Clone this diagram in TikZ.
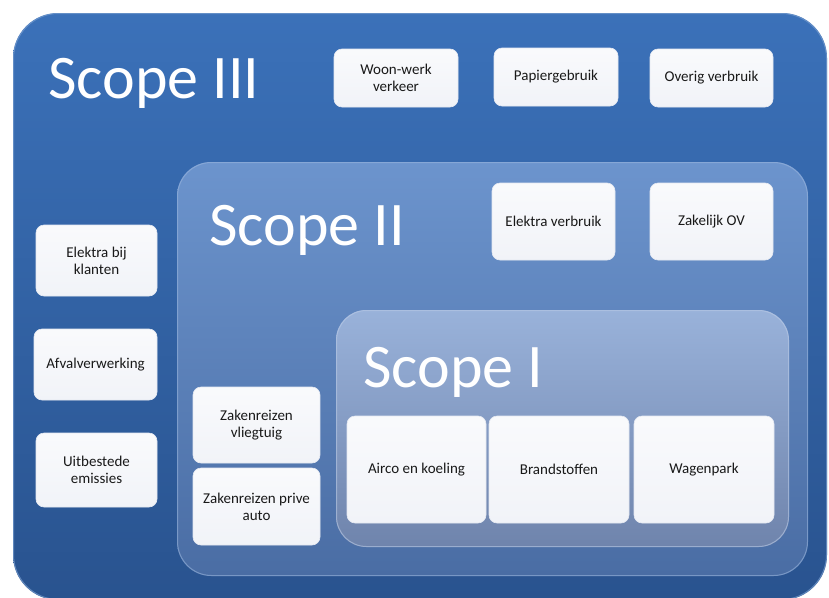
\documentclass[tikz,border=0pt]{standalone}
\usepackage{fontspec}
\setmainfont{Carlito}
\definecolor{outerT}{HTML}{3B71B9}
\definecolor{outerB}{HTML}{29538F}
\definecolor{twoT}{HTML}{6C94CD}
\definecolor{twoB}{HTML}{4A6DA4}
\definecolor{oneT}{HTML}{99B2DA}
\definecolor{oneB}{HTML}{6F84AC}
\definecolor{boxfill}{HTML}{F1F3F8}
\definecolor{boxedge}{HTML}{E4E8F1}
\tikzset{
  itembox/.style={rounded corners=8pt, top color=white!60!boxfill, bottom color=boxfill, draw=boxedge, line width=0.6pt,
    align=center, font=\fontsize{15}{17}\selectfont, text=black!90, inner sep=2pt},
  scopetitle/.style={anchor=base west, text=white, font=\fontsize{62}{62}\selectfont, inner sep=0pt},
}
\begin{document}
\begin{tikzpicture}[x=1pt,y=-1pt]
\clip (0,0) rectangle (829,597);
\fill[white] (0,0) rectangle (829,597);
% outer Scope III
\shade[rounded corners=45pt, top color=outerT, bottom color=outerB] (13,13) rectangle (827,600);
\draw[rounded corners=45pt, draw=outerT!70!white, line width=1pt, opacity=0.7] (13.5,13.5) rectangle (826.5,599.5);
% Scope II
\shade[rounded corners=34pt, top color=twoT, bottom color=twoB] (177,162) rectangle (808,576);
\draw[rounded corners=34pt, draw=twoT!70!white, line width=1pt, opacity=0.6] (177.5,162.5) rectangle (807.5,575.5);
% Scope I
\shade[rounded corners=30pt, top color=oneT, bottom color=oneB] (336,310) rectangle (789,547);
\draw[rounded corners=30pt, draw=oneT!70!white, line width=1pt, opacity=0.6] (336.5,310.5) rectangle (788.5,546.5);
% titles
\node[scopetitle] (t3) at (48,98) {Scope III};
\node[scopetitle] (t2) at (209,245) {Scope II};
\node[scopetitle] (t1) at (363,387) {Scope I};
% Scope III items
\node[itembox, minimum width=124pt, minimum height=58pt] (woon) at (396,78) {Woon-werk\\verkeer};
\node[itembox, minimum width=124pt, minimum height=58pt] (papier) at (556,77) {Papiergebruik};
\node[itembox, minimum width=123pt, minimum height=58pt] (overig) at (711.5,78) {Overig verbruik};
\node[itembox, minimum width=121pt, minimum height=71pt] (klant) at (96.5,260.5) {Elektra bij\\klanten};
\node[itembox, minimum width=123pt, minimum height=71pt] (afval) at (95.5,364.5) {Afvalverwerking};
\node[itembox, minimum width=121pt, minimum height=74pt] (uitb) at (96.5,470) {Uitbestede\\emissies};
% Scope II items
\node[itembox, minimum width=123pt, minimum height=77pt] (elek) at (553.5,221.5) {Elektra verbruik};
\node[itembox, minimum width=123pt, minimum height=77pt] (ov) at (711.5,221.5) {Zakelijk OV};
\node[itembox, minimum width=127pt, minimum height=76pt] (vlieg) at (256.5,425) {Zakenreizen\\vliegtuig};
\node[itembox, minimum width=127pt, minimum height=77pt] (auto) at (256.5,506.5) {Zakenreizen prive\\auto};
% Scope I items
\node[itembox, minimum width=139pt, minimum height=107pt] (airco) at (416.5,469.5) {Airco en koeling};
\node[itembox, minimum width=140pt, minimum height=107pt] (brand) at (559,469.5) {Brandstoffen};
\node[itembox, minimum width=140pt, minimum height=107pt] (wagen) at (704,469.5) {Wagenpark};
\end{tikzpicture}
\end{document}
